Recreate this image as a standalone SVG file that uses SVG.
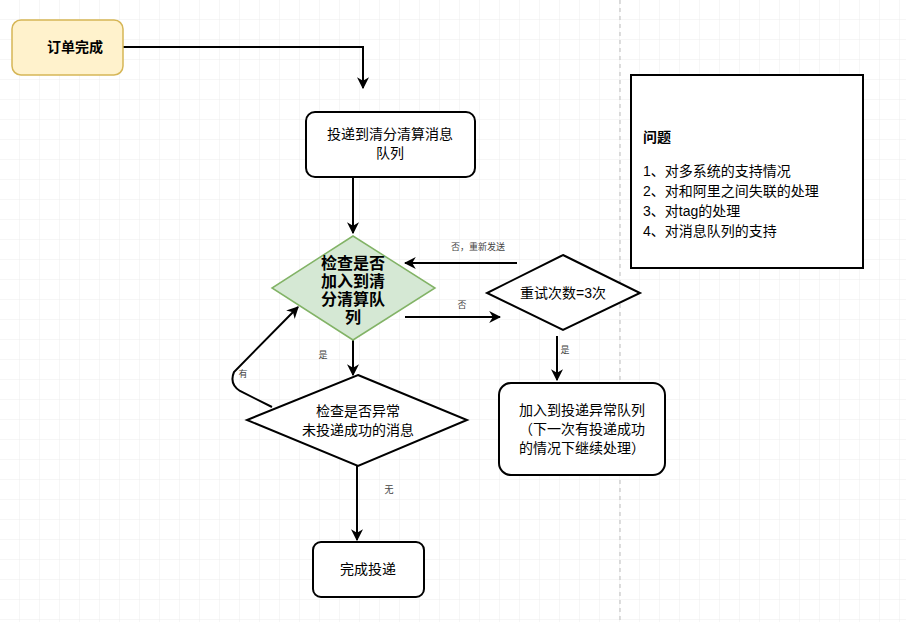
<svg xmlns="http://www.w3.org/2000/svg" width="906" height="622" viewBox="0 0 906 622">
<style>
text{font-family:"Liberation Sans","Noto Sans CJK SC",sans-serif;fill:#000}
.t{font-size:14px;text-anchor:middle}
.b{font-size:16px;font-weight:bold;text-anchor:middle}
.s{font-size:9px;fill:#444;text-anchor:middle}
.n{fill:#fff;stroke:#000;stroke-width:2}
.c{fill:none;stroke:#000;stroke-width:2;marker-end:url(#a)}
</style>
<defs>
<marker id="a" viewBox="0 0 10 10" refX="9" refY="5" markerWidth="6" markerHeight="6" orient="auto"><path d="M0,0L10,5L0,10L3,5z" fill="#000"/></marker>
<pattern id="g" width="20" height="20" patternUnits="userSpaceOnUse"><path d="M20,0V20H0" fill="none" stroke="#ececec" stroke-width="1"/></pattern>
</defs>
<rect width="906" height="622" fill="#fff"/>
<rect width="906" height="622" fill="url(#g)"/>
<line x1="620" y1="0" x2="620" y2="622" stroke="#bbb" stroke-dasharray="4,4"/>
<g id="connectors">
<path class="c" d="M123,47H363V88"/>
<path class="c" d="M353,177V233"/>
<path class="c" d="M517,263H405"/>
<path class="c" d="M405,317H500"/>
<path class="c" d="M557,336V380"/>
<path class="c" d="M353,340V375"/>
<path class="c" d="M272,407L240,391Q229,384 234,372L298,307"/>
<path class="c" d="M357,466V540"/>
<text class="s" x="478" y="250">否，重新发送</text>
<text class="s" x="462" y="308">否</text>
<text class="s" x="565" y="353">是</text>
<text class="s" x="323" y="358">是</text>
<text class="s" x="243" y="377">有</text>
<text class="s" x="389" y="493">无</text>
</g>
<g id="start"><rect x="12" y="20" width="111" height="55" rx="9" fill="#fff2cc" stroke="#d6b656" stroke-width="1.5"/><text class="t" x="75" y="52" font-weight="bold">订单完成</text></g>
<g id="deliver"><rect class="n" x="306" y="112" width="169" height="65" rx="9"/><text class="t" x="390" y="139">投递到清分清算消息</text><text class="t" x="390" y="158">队列</text></g>
<g id="check1"><path d="M353,236L435,288L353,340L272,288Z" fill="#d5e8d4" stroke="#82b366" stroke-width="1.5"/>
<text class="b" x="353" y="269">检查是否</text><text class="b" x="353" y="287">加入到清</text><text class="b" x="353" y="305">分清算队</text><text class="b" x="353" y="323">列</text></g>
<g id="retry"><path class="n" d="M563,255L640,293L563,330L487,293Z"/><text class="t" x="563" y="298">重试次数=3次</text></g>
<g id="abnormal"><rect class="n" x="499" y="383" width="166" height="92" rx="12"/><text class="t" x="582" y="415">加入到投递异常队列</text><text class="t" x="582" y="434">（下一次有投递成功</text><text class="t" x="582" y="453">的情况下继续处理）</text></g>
<g id="check2"><path class="n" d="M358,375L467,420L358,466L247,420Z"/><text class="t" x="358" y="416">检查是否异常</text><text class="t" x="358" y="435">未投递成功的消息</text></g>
<g id="done"><rect class="n" x="313" y="542" width="111" height="55" rx="8"/><text class="t" x="368" y="574">完成投递</text></g>
<g id="issues"><rect class="n" x="631" y="75" width="232" height="193"/>
<text x="643" y="142" font-size="14" font-weight="bold">问题</text>
<text x="643" y="176" font-size="14">1、对多系统的支持情况</text>
<text x="643" y="196" font-size="14">2、对和阿里之间失联的处理</text>
<text x="643" y="216" font-size="14">3、对tag的处理</text>
<text x="643" y="236" font-size="14">4、对消息队列的支持</text></g>
</svg>
